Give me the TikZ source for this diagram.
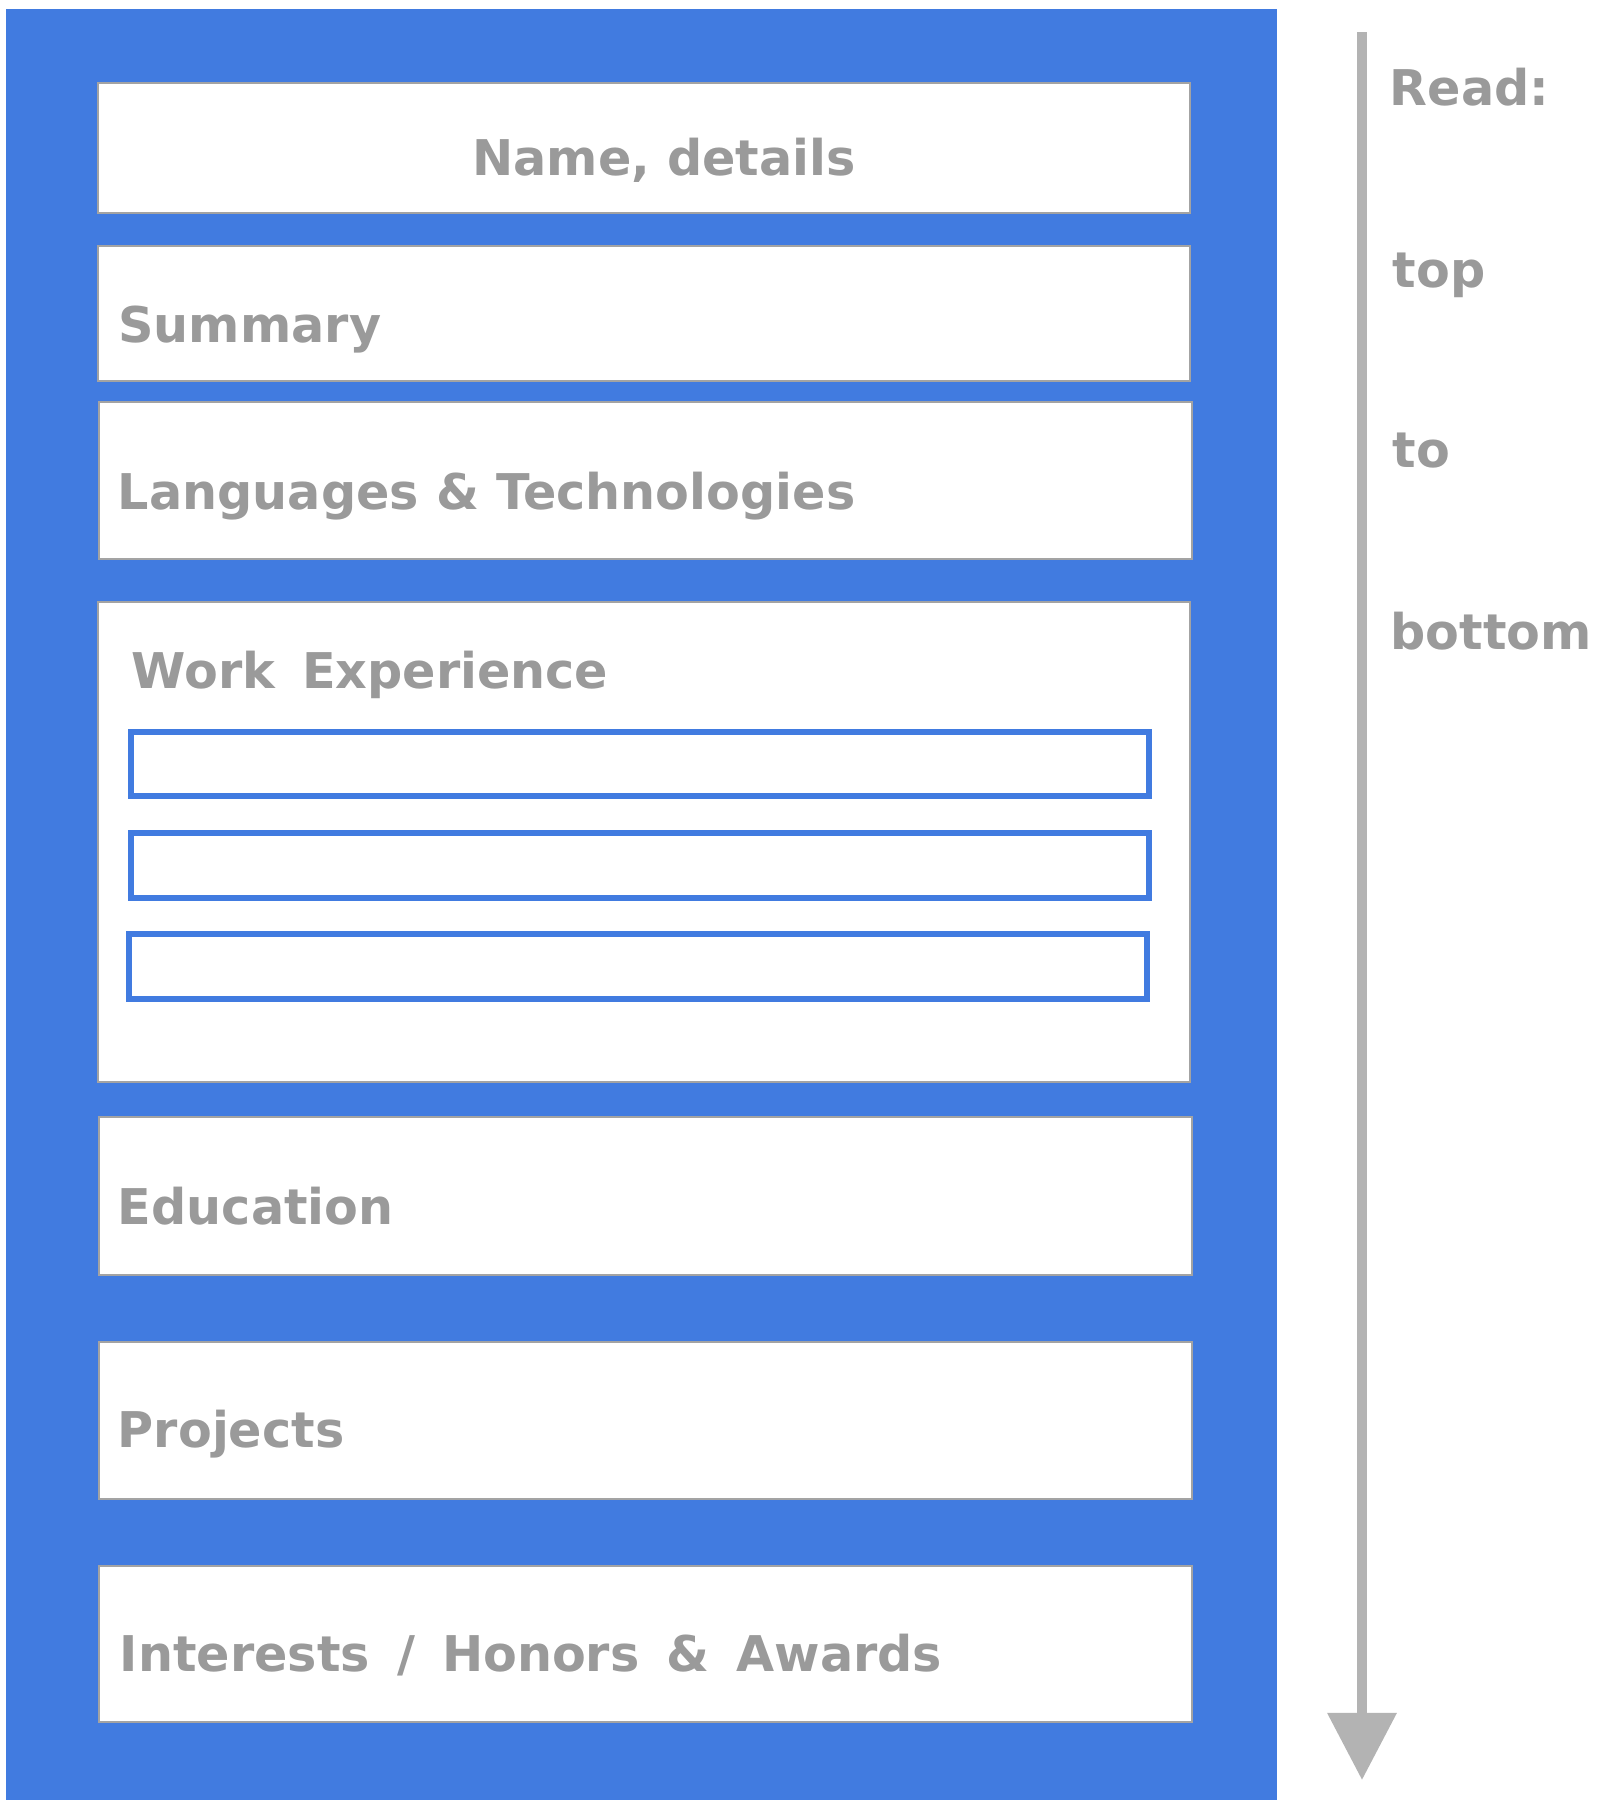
\documentclass[tikz,border=0pt]{standalone}
\usepackage{fontspec}
\setmainfont{DejaVu Sans}
\usepackage{tikz}
\usetikzlibrary{arrows.meta,positioning}

\definecolor{cvblue}{HTML}{417BE0}
\definecolor{labelgray}{HTML}{9A9A9A}
\definecolor{boxgray}{HTML}{A3A3A3}
\definecolor{arrowgray}{HTML}{B3B3B3}

\newcommand{\widespaces}{\spaceskip=0.55em\relax}

\tikzset{
  secbox/.style={draw=boxgray, fill=white, line width=0.02cm, inner sep=0pt,
    minimum width=10.92cm},
  jobbox/.style={draw=cvblue, fill=white, line width=0.06cm, inner sep=0pt,
    minimum width=10.18cm, minimum height=0.64cm},
  seclabel/.style={text=labelgray, font=\fontsize{14}{17}\selectfont\bfseries, inner sep=0pt},
  widelabel/.style={seclabel, execute at begin node=\widespaces},
  readarrow/.style={draw=arrowgray, line width=0.1cm,
    -{Triangle[width=0.67cm,length=0.67cm]}}
}

\begin{document}
\begin{tikzpicture}[x=0.01cm, y=-0.01cm]

    \useasboundingbox (0,0) rectangle (1622,1812);

    % BLUE PAGE
    \fill[cvblue] (6,9) rectangle (1277,1800);

    % SECTIONS
    \node[secbox, minimum height=1.30cm] (name) at (644,148) {};
    \node[secbox, minimum height=1.35cm] (summary) at (644,313.5) {};
    \node[secbox, minimum height=1.57cm] (lang) at (645.5,480.5) {};
    \node[secbox, minimum height=4.80cm] (work) at (644,842) {};
    \node[secbox, minimum height=1.58cm] (edu) at (645.5,1196) {};
    \node[secbox, minimum height=1.57cm] (proj) at (645.5,1420.5) {};
    \node[secbox, minimum height=1.56cm] (honors) at (645.5,1644) {};

    % JOB ENTRIES
    \node[jobbox] (job1) at (640,764) {};
    \node[jobbox] (job2) at (640,865.5) {};
    \node[jobbox] (job3) at (638,966.5) {};

    % LABELS
    \node[seclabel, anchor=base] (nametxt) at ([xshift=0.2cm, yshift=-0.27cm]name.center) {Name, details};
    \node[seclabel, anchor=base west] (summarytxt) at ([xshift=0.21cm, yshift=-0.29cm]summary.west) {Summary};
    \node[seclabel, anchor=base west] (langtxt) at ([xshift=0.19cm, yshift=-0.29cm]lang.west) {Languages \& Technologies};
    \node[widelabel, anchor=base west] (worktxt) at (131,688) {Work Experience};
    \node[seclabel, anchor=base west] (edutxt) at ([xshift=0.19cm, yshift=-0.28cm]edu.west) {Education};
    \node[seclabel, anchor=base west] (projtxt) at ([xshift=0.19cm, yshift=-0.27cm]proj.west) {Projects};
    \node[widelabel, anchor=base west] (honorstxt) at ([xshift=0.21cm, yshift=-0.27cm]honors.west) {Interests / Honors \& Awards};

    % READING DIRECTION
    \coordinate (readtop) at (1362,32);
    \coordinate (readend) at (1362,1780);
    \draw[readarrow] (readtop) -- (readend);

    \node[seclabel, anchor=base west] (read) at (1389,105) {Read:};
    \node[seclabel, anchor=base west] (top) at (1392,287) {top};
    \node[seclabel, anchor=base west] (to) at (1392,467) {to};
    \node[seclabel, anchor=base west] (bottom) at (1390,649) {bottom};

\end{tikzpicture}
\end{document}
